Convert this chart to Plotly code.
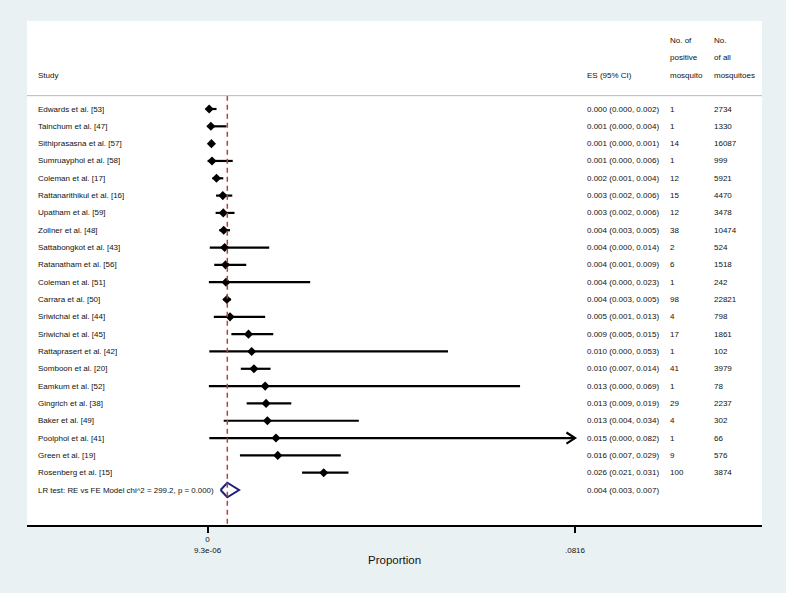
import plotly.graph_objects as go

# ---------------- data ----------------
studies = ["Edwards et al. [53]", "Tainchum et al. [47]", "Sithiprasasna et al. [57]",
           "Sumruayphol et al. [58]", "Coleman et al. [17]", "Rattanarithikul et al. [16]",
           "Upatham et al. [59]", "Zollner et al. [48]", "Sattabongkot et al. [43]",
           "Ratanatham et al. [56]", "Coleman et al. [51]", "Carrara et al. [50]",
           "Sriwichai et al. [44]", "Sriwichai et al. [45]", "Rattaprasert et al. [42]",
           "Somboon et al. [20]", "Eamkum et al. [52]", "Gingrich et al. [38]",
           "Baker et al. [49]", "Poolphol et al. [41]", "Green et al. [19]",
           "Rosenberg et al. [15]"]
es = [0.00037, 0.00075, 0.00087, 0.0010, 0.0020, 0.0034, 0.0035, 0.0036, 0.0038, 0.0040,
      0.0041, 0.0043, 0.0050, 0.0091, 0.0098, 0.0103, 0.0128, 0.0130, 0.0133, 0.0152,
      0.0156, 0.0258]
ci_lo = [0.00001, 0.00002, 0.00048, 0.00003, 0.0011, 0.0019, 0.0018, 0.0026, 0.0005, 0.0015,
         0.0003, 0.0035, 0.0014, 0.0053, 0.0004, 0.0074, 0.0003, 0.0087, 0.0036, 0.0004,
         0.0072, 0.0210]
ci_hi = [0.0020, 0.0042, 0.0015, 0.0056, 0.0035, 0.0055, 0.0060, 0.0050, 0.0137, 0.0086,
         0.0228, 0.0052, 0.0128, 0.0146, 0.0534, 0.0140, 0.0694, 0.0186, 0.0336, 0.0820,
         0.0296, 0.0313]
es_text = ["0.000 (0.000, 0.002)", "0.001 (0.000, 0.004)", "0.001 (0.000, 0.001)",
           "0.001 (0.000, 0.006)", "0.002 (0.001, 0.004)", "0.003 (0.002, 0.006)",
           "0.003 (0.002, 0.006)", "0.004 (0.003, 0.005)", "0.004 (0.000, 0.014)",
           "0.004 (0.001, 0.009)", "0.004 (0.000, 0.023)", "0.004 (0.003, 0.005)",
           "0.005 (0.001, 0.013)", "0.009 (0.005, 0.015)", "0.010 (0.000, 0.053)",
           "0.010 (0.007, 0.014)", "0.013 (0.000, 0.069)", "0.013 (0.009, 0.019)",
           "0.013 (0.004, 0.034)", "0.015 (0.000, 0.082)", "0.016 (0.007, 0.029)",
           "0.026 (0.021, 0.031)"]
n_positive = ["1", "1", "14", "1", "12", "15", "12", "38", "2", "6", "1", "98", "4", "17",
              "1", "41", "1", "29", "4", "1", "9", "100"]
n_all = ["2734", "1330", "16087", "999", "5921", "4470", "3478", "10474", "524", "1518",
         "242", "22821", "798", "1861", "102", "3979", "78", "2237", "302", "66", "576",
         "3874"]

pooled_label = "LR test: RE vs FE Model chi^2 = 299.2, p = 0.000)"
pooled_es, pooled_lo, pooled_hi = 0.0044, 0.0029, 0.0070
pooled_text = "0.004 (0.003, 0.007)"

tick_vals = [0.0, 0.0816]
tick_text = ["0<br>9.3e-06", " <br>.0816"]
axis_max = 0.0816

# ---------------- figure ----------------
FONT = "Liberation Sans, Arial, Helvetica, sans-serif"
n = len(studies)
rows = list(range(n))
pooled_row = n

fig = go.Figure()

# CI lines (clipped at axis max)
for i in rows:
    hi = min(ci_hi[i], axis_max)
    fig.add_trace(go.Scatter(x=[ci_lo[i], hi], y=[i, i], mode="lines",
                             line=dict(color="black", width=2.2),
                             hoverinfo="skip", showlegend=False))
    if ci_hi[i] > axis_max:
        d, h = 0.0019, 0.32
        fig.add_trace(go.Scatter(x=[hi - d, hi, hi - d], y=[i - h, i, i + h], mode="lines",
                                 line=dict(color="black", width=2.2),
                                 hoverinfo="skip", showlegend=False))

# point estimates
fig.add_trace(go.Scatter(x=es, y=rows, mode="markers",
                         marker=dict(symbol="diamond", size=7, color="black"),
                         hoverinfo="skip", showlegend=False))

# pooled diamond
dh = 0.42
fig.add_trace(go.Scatter(x=[pooled_lo, pooled_es, pooled_hi, pooled_es, pooled_lo],
                         y=[pooled_row, pooled_row - dh, pooled_row, pooled_row + dh, pooled_row],
                         mode="lines", line=dict(color="#1b1f7a", width=2),
                         hoverinfo="skip", showlegend=False))

# reference dashed line at pooled estimate
header_rule = -0.77
fig.add_shape(type="line", xref="x", yref="y", x0=pooled_es, x1=pooled_es,
              y0=header_rule, y1=24.02, line=dict(color="#b8413f", width=1.5, dash="5px,4px"))
# header rule
fig.add_shape(type="line", xref="paper", yref="y", x0=0, x1=1, y0=header_rule, y1=header_rule,
              line=dict(color="#b8b8b8", width=1))

# text columns
x_study, x_es, x_pos, x_all = 0.0122, 0.7592, 0.8721, 0.9320
ann = []
def txt(x, y, s, size=8):
    ann.append(dict(x=x, y=y, xref="paper", yref="y", text=s, showarrow=False,
                    xanchor="left", yanchor="middle", font=dict(family=FONT, size=size, color="#111111")))

for i in rows:
    txt(x_study, i, studies[i])
    txt(x_es, i, es_text[i])
    txt(x_pos, i, n_positive[i])
    txt(x_all, i, n_all[i])
txt(x_study, pooled_row, pooled_label, size=7.9)
txt(x_es, pooled_row, pooled_text)

# headers
txt(x_study, -1.96, "Study")
txt(x_es, -1.96, "ES (95% CI)")
txt(x_pos, -3.98, "No. of")
txt(x_pos, -3.0, "positive")
txt(x_pos, -1.96, "mosquito")
txt(x_all, -3.98, "No.")
txt(x_all, -3.0, "of all")
txt(x_all, -1.96, "mosquitoes")

ann.append(dict(x=0.5, y=-0.0694, xref="paper", yref="paper", text="Proportion",
                showarrow=False, xanchor="center", yanchor="middle",
                font=dict(family=FONT, size=11.5, color="#111111")))

fig.update_layout(
    width=786, height=593,
    margin=dict(l=27, r=24, t=21, b=68),
    paper_bgcolor="#eaf1f3", plot_bgcolor="white",
    annotations=ann, showlegend=False,
    xaxis=dict(range=[-0.04008, 0.12312], showgrid=False, zeroline=False,
               showline=True, linecolor="black", linewidth=1.6,
               ticks="outside", ticklen=6, tickwidth=1.6, tickcolor="black",
               tickvals=tick_vals, ticktext=tick_text,
               tickfont=dict(family=FONT, size=8, color="#111111"), fixedrange=True),
    yaxis=dict(range=[24.02, -5.081], showgrid=False, zeroline=False, showline=False,
               showticklabels=False, ticks="", fixedrange=True),
)

fig.write_html("out.html", config={"displayModeBar": False},
               post_script="document.body.style.margin='0';document.body.style.padding='0';"
                           "document.body.style.overflow='hidden';")
